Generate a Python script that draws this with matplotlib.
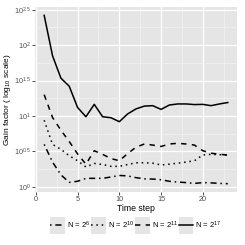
import matplotlib
matplotlib.use("Agg")
import matplotlib.pyplot as plt
from matplotlib.legend_handler import HandlerLine2D
from matplotlib.patches import Rectangle
from matplotlib.ticker import FixedLocator, FixedFormatter

# time steps 1..23
steps = list(range(1, 24))

# gain factors (plotted on log10 scale)
gain_n6 = [3.98, 2.24, 1.48, 1.16, 1.20, 1.32, 1.32, 1.32, 1.38, 1.45, 1.43, 1.35,
           1.30, 1.29, 1.26, 1.20, 1.17, 1.15, 1.12, 1.15, 1.14, 1.12, 1.11]
gain_n10 = [8.71, 3.98, 3.39, 2.75, 2.34, 1.91, 2.14, 2.07, 1.95, 1.95, 2.07, 2.19,
            2.19, 2.16, 2.04, 2.09, 2.16, 2.24, 2.34, 2.82, 2.88, 2.85, 2.79]
gain_n11 = [20.0, 9.55, 6.31, 4.37, 2.92, 2.09, 3.24, 2.88, 2.51, 2.34, 2.95, 3.63,
            4.03, 3.89, 3.72, 4.03, 4.12, 4.03, 3.89, 3.24, 2.99, 2.88, 2.82]
gain_n17 = [263.0, 70.8, 34.3, 26.3, 13.2, 9.77, 14.6, 9.77, 9.46, 8.32, 10.7, 12.6,
            13.8, 14.0, 12.4, 14.3, 14.8, 14.8, 14.5, 14.6, 14.0, 14.8, 15.5]

series_labels = [r"N = 2$^{6}$", r"N = 2$^{10}$", r"N = 2$^{11}$", r"N = 2$^{17}$"]
y_exponents = ["0", "0.5", "1", "1.5", "2", "2.5"]
x_ticks = [0, 5, 10, 15, 20]

plt.rcParams["font.family"] = ["Liberation Sans", "DejaVu Sans"]
plt.rcParams["mathtext.fontset"] = "custom"
plt.rcParams["mathtext.rm"] = "Liberation Sans"
plt.rcParams["mathtext.it"] = "Liberation Sans:italic"

PANEL_BG = "#E5E5E5"
MINOR_GRID = "#F2F2F2"


class KeyHandler(HandlerLine2D):
    """Legend key with ggplot-style grey background box."""

    def create_artists(self, legend, orig_handle, xdescent, ydescent,
                       width, height, fontsize, trans):
        pad = 4.5
        bg = Rectangle((-xdescent, -ydescent - pad), width, height + 2 * pad,
                       facecolor=PANEL_BG, edgecolor="none", transform=trans)
        arts = super().create_artists(legend, orig_handle, xdescent, ydescent,
                                      width, height, fontsize, trans)
        return [bg] + arts


fig = plt.figure(figsize=(2.45, 2.45), dpi=100)
ax = fig.add_axes([35 / 245, 1 - 192 / 245, 202 / 245, 185 / 245])
ax.set_facecolor(PANEL_BG)
for sp in ax.spines.values():
    sp.set_visible(False)

lw = 1.1
ax.plot(steps, gain_n6, color="black", lw=lw, linestyle=(0, (1, 2.5, 4, 2.5)),
        label=series_labels[0])
ax.plot(steps, gain_n10, color="black", lw=lw, linestyle=(0, (1, 2.5)),
        label=series_labels[1])
ax.plot(steps, gain_n11, color="black", lw=lw, linestyle=(0, (3.5, 3.5)),
        label=series_labels[2])
ax.plot(steps, gain_n17, color="black", lw=lw, linestyle="-",
        label=series_labels[3])

ax.set_yscale("log")
ax.set_ylim(10 ** -0.072, 10 ** 2.538)
ax.set_xlim(-0.1, 24.1)

major_y = [10 ** float(e) for e in y_exponents]
minor_y = [10 ** (float(e) + 0.25) for e in y_exponents[:-1]]
ax.yaxis.set_major_locator(FixedLocator(major_y))
ax.yaxis.set_major_formatter(FixedFormatter([r"10$^{%s}$" % e for e in y_exponents]))
ax.yaxis.set_minor_locator(FixedLocator(minor_y))
ax.yaxis.set_minor_formatter(FixedFormatter([]))
ax.xaxis.set_major_locator(FixedLocator(x_ticks))
ax.xaxis.set_minor_locator(FixedLocator([2.5, 7.5, 12.5, 17.5, 22.5]))

ax.grid(True, which="major", color="white", lw=0.9)
ax.grid(True, which="minor", color=MINOR_GRID, lw=0.5)
ax.set_axisbelow(True)

ax.tick_params(axis="both", which="major", length=2, width=0.6, color="#333333",
               labelsize=5.2, labelcolor="#4D4D4D", pad=1.2)
ax.tick_params(axis="both", which="minor", length=0)

ax.set_xlabel("Time step", fontsize=6.2, labelpad=0.5)
ax.set_ylabel(r"Gain factor ( log$_{10}$ scale)", fontsize=6.0)
ax.yaxis.set_label_coords(-0.11, 0.5)

leg = fig.legend(loc="center", bbox_to_anchor=(136 / 245, 1 - 225 / 245), ncol=4,
                 frameon=False, fontsize=5.5, handlelength=1.9, handletextpad=0.25,
                 columnspacing=0.15, borderaxespad=0,
                 handler_map={plt.Line2D: KeyHandler()})

fig.savefig("out.png", dpi=100)
